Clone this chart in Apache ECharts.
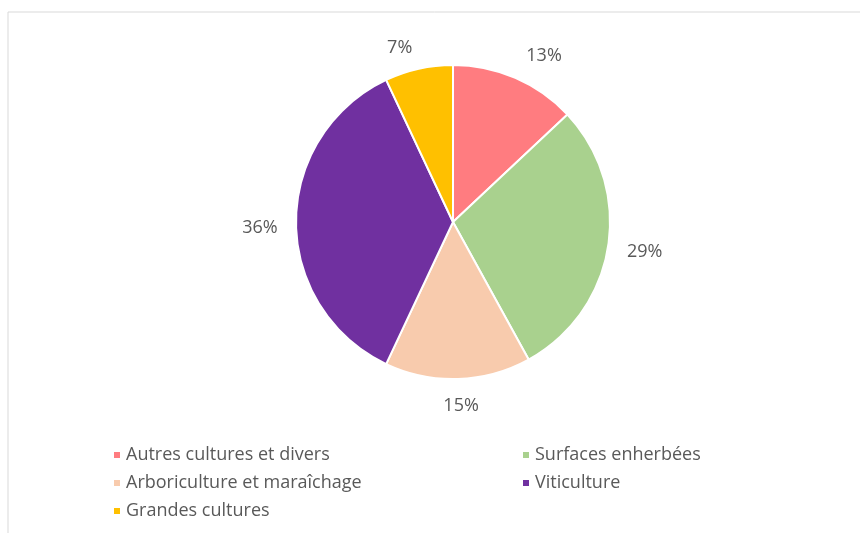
<!DOCTYPE html>
<html><head><meta charset="utf-8">
<script src="https://cdn.jsdelivr.net/npm/echarts@6/dist/echarts.min.js"></script>
<style>html,body{margin:0;padding:0;background:#fff}#c{width:860px;height:533px}</style>
</head><body><div id="c"></div>
<script>
const categories = ["Autres cultures et divers","Surfaces enherbées","Arboriculture et maraîchage","Viticulture","Grandes cultures"];
const values = [13, 29, 15, 36, 7];
const colors = ["#FF7C80","#A9D18E","#F8CBAD","#7030A0","#FFC000"];
const legendCol1 = ["Autres cultures et divers","Arboriculture et maraîchage","Grandes cultures"];
const legendCol2 = ["Surfaces enherbées","Viticulture"];

const chart = echarts.init(document.getElementById('c'));
const data = categories.map((n,i)=>({name:n, value:values[i], itemStyle:{color:colors[i]}}));
// small label nudges imitating the original "outside end" placement
const nudge = {"Autres cultures et divers":[14,12],"Surfaces enherbées":[0,0],"Arboriculture et maraîchage":[2,-10],"Viticulture":[1,6],"Grandes cultures":[-11,15]};
const labelData = categories.map((n,i)=>({name:n, value:values[i], label:{offset:nudge[n]}}));
const legendBase = {
  orient:'vertical', icon:'rect', itemWidth:8, itemHeight:8, itemGap:10,
  textStyle:{color:'#595959', fontSize:18, fontFamily:'Open Sans'}
};
chart.setOption({
  animation:false,
  graphic:[{type:'rect', shape:{x:8, y:12, width:900, height:600}, style:{fill:'none', stroke:'#d9d9d9', lineWidth:1}}],
  legend:[
    Object.assign({}, legendBase, {left:107, top:441, data:legendCol1}),
    Object.assign({}, legendBase, {left:516, top:441, data:legendCol2})
  ],
  series:[
    {type:'pie', center:[453,222], radius:157, startAngle:90, clockwise:true, data:data,
     itemStyle:{borderColor:'#fff', borderWidth:2}, label:{show:false}, labelLine:{show:false}},
    {type:'pie', center:[453,222], radius:[157,225], startAngle:90, clockwise:true, silent:true,
     data:labelData, itemStyle:{color:'rgba(0,0,0,0)'}, legendHoverLink:false,
     label:{show:true, position:'inside', formatter:'{c}%', color:'#595959', fontSize:18, fontFamily:'Open Sans'},
     labelLine:{show:false}, emphasis:{disabled:true}}
  ]
});
</script></body></html>
